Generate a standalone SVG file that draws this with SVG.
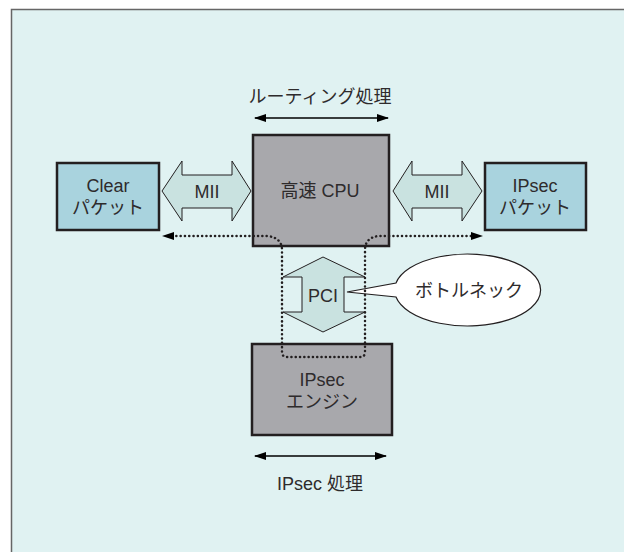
<svg xmlns="http://www.w3.org/2000/svg" width="624" height="552" viewBox="0 0 624 552">
<defs>
<style>
.t{font-family:"Liberation Sans","Noto Sans CJK JP",sans-serif;font-size:18px;fill:#2e2b2c;text-anchor:middle;dominant-baseline:central}
.box{stroke:#231f20;stroke-width:2.5}
.pkt{fill:#a9d3de}
.gray{fill:#a8a8ac}
.fat{fill:#c9e2e0;stroke:#231f20;stroke-width:1}
.dim{stroke:#000;stroke-width:1.5;fill:none;marker-start:url(#ah);marker-end:url(#ah)}
.dot{fill:none;stroke:#231f20;stroke-width:2.5;stroke-dasharray:0.1 4.2;stroke-linecap:round}
</style>
<marker id="ah" viewBox="0 0 12 8" refX="11" refY="4" markerWidth="12" markerHeight="8" markerUnits="userSpaceOnUse" orient="auto-start-reverse">
<path d="M0,0 L12,4 L0,8 Z" fill="#000"/>
</marker>
</defs>
<rect x="11.5" y="9.5" width="620" height="550" fill="#e0f2f2" stroke="#666" stroke-width="1.5"/>

<g id="routing-label">
<text class="t" x="320" y="97">ルーティング処理</text>
</g>
<g id="cpu">
<rect class="box gray" x="253" y="135" width="136" height="111"/>
<text class="t" x="320" y="191">高速 CPU</text>
</g>
<g id="clear-packet">
<rect class="box pkt" x="57" y="163" width="102" height="67"/>
<text class="t" x="108" y="186">Clear</text>
<text class="t" x="108" y="208">パケット</text>
</g>
<g id="ipsec-packet">
<rect class="box pkt" x="485" y="163" width="101" height="67"/>
<text class="t" x="535" y="186">IPsec</text>
<text class="t" x="535" y="208">パケット</text>
</g>
<g id="engine">
<rect class="box gray" x="252" y="344" width="140" height="91"/>
<text class="t" x="322" y="380">IPsec</text>
<text class="t" x="322" y="402">エンジン</text>
</g>
<g id="ipsec-label">
<text class="t" x="320" y="484">IPsec 処理</text>
</g>
<g id="bottleneck">
<path d="M347,292 L396,283 A73,36 0 1 1 396,297 Z" fill="#fff" stroke="#231f20" stroke-width="1.2"/>
<text class="t" x="469" y="291">ボトルネック</text>
</g>

<g id="connectors">
<line class="dim" x1="255" y1="118" x2="388" y2="118"/>
<line class="dim" x1="255" y1="456" x2="386" y2="456"/>
<g id="mii-left">
<polygon class="fat" points="162,191 182,161 182,175 232,175 232,161 251,191 232,221 232,208 182,208 182,221"/>
<text class="t" x="207" y="192">MII</text>
</g>
<g id="mii-right">
<polygon class="fat" points="393,191 412,161 412,175 462,175 462,161 482,191 462,221 462,208 412,208 412,221"/>
<text class="t" x="437" y="192">MII</text>
</g>
<g id="pci">
<polygon class="fat" points="323,257 365,277 344,277 344,312 365,312 323,332 283,312 302,312 302,277 283,277"/>
<text class="t" x="323" y="296">PCI</text>
</g>
<path class="dot" d="M172,236 L268,236 Q282,238 282,250 L282,352 Q282,357 287,357 L360,357 Q365,357 365,352 L365,250 Q365,238 378,236 L472,236"/>
<path d="M162,236 L174,232 L174,240 Z" fill="#000"/>
<path d="M483,236 L471,232 L471,240 Z" fill="#000"/>
</g>
</svg>
